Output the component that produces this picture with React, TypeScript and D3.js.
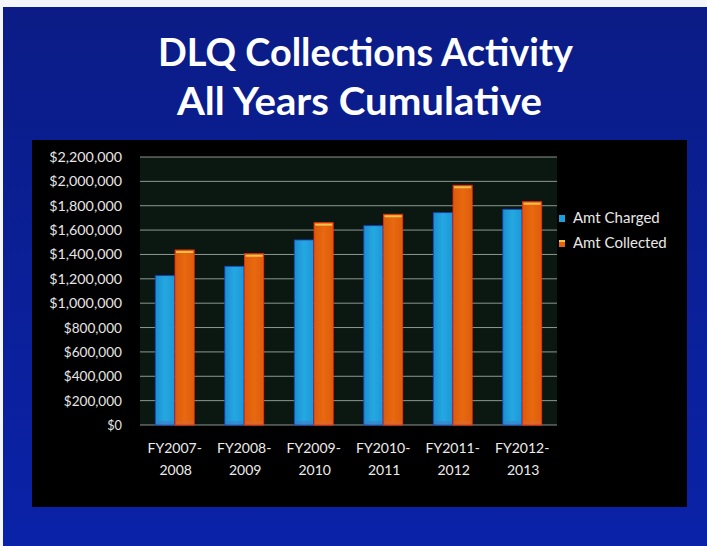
import React from "react";
import * as d3 from "d3";

const categories = ["FY2007-2008", "FY2008-2009", "FY2009-2010", "FY2010-2011", "FY2011-2012", "FY2012-2013"];
const charged = [1226000, 1303000, 1519000, 1636000, 1743000, 1771000];
const collected = [1437000, 1406000, 1661000, 1730000, 1968000, 1833000];
const seriesNames = ["Amt Charged", "Amt Collected"];
const yTicks = [0, 200000, 400000, 600000, 800000, 1000000, 1200000, 1400000, 1600000, 1800000, 2000000, 2200000];
const titleLines = ["DLQ Collections Activity", "All Years Cumulative"];

const W = 707;
const H = 546;
const plot = { left: 140, right: 557, top: 157, bottom: 425 };
const FONT = "Lato, 'Open Sans', sans-serif";

export default function App() {
  const x = d3.scaleBand<string>().domain(categories).range([plot.left, plot.right]).paddingInner(0.44).paddingOuter(0.22);
  const sub = d3.scaleBand<string>().domain(seriesNames).range([0, x.bandwidth()]).paddingInner(0.03);
  const y = d3.scaleLinear().domain([0, 2200000]).range([plot.bottom, plot.top]);
  const fmt = (v: number) => "$" + d3.format(",")(v);
  const series = [charged, collected];
  const fills = ["#1f9fda", "#e4640f"];
  const strokes = ["#1740c0", "#ff2a10"];

  return (
    <svg width={W} height={H} style={{ position: "absolute", left: 0, top: 0 }}>
      <defs>
        <linearGradient id="bg" x1="0" y1="0" x2="0" y2="1">
          <stop offset="0" stopColor="#0b1c86" />
          <stop offset="1" stopColor="#0a22a8" />
        </linearGradient>
        <linearGradient id="gBlue" x1="0" y1="0" x2="1" y2="0">
          <stop offset="0" stopColor="#1a8fd0" />
          <stop offset="0.5" stopColor="#25a8e2" />
          <stop offset="1" stopColor="#1c98d6" />
        </linearGradient>
        <linearGradient id="gOrange" x1="0" y1="0" x2="1" y2="0">
          <stop offset="0" stopColor="#dc5a0c" />
          <stop offset="0.5" stopColor="#e8690f" />
          <stop offset="1" stopColor="#de5c0c" />
        </linearGradient>
      </defs>
      <rect x={0} y={0} width={W} height={H} fill="#f4f6fa" />
      <rect x={3} y={7} width={W - 3} height={H - 7} fill="url(#bg)" />
      <g fontFamily={FONT} fontWeight={700} fill="#ffffff" textAnchor="middle">
        <text x={365.5} y={66} fontSize={39} textLength={415} lengthAdjust="spacingAndGlyphs">{titleLines[0]}</text>
        <text x={359.5} y={115} fontSize={39} textLength={365} lengthAdjust="spacingAndGlyphs">{titleLines[1]}</text>
      </g>
      <rect x={32} y={140} width={655} height={367} fill="#000000" />
      <rect x={plot.left} y={plot.top} width={plot.right - plot.left} height={plot.bottom - plot.top} fill="#0b1812" />
      {yTicks.map((t) => (
        <g key={t}>
          <line x1={plot.left} x2={plot.right} y1={y(t)} y2={y(t)} stroke="#b9c2bc" strokeOpacity={0.75} strokeWidth={1} />
          <text x={122} y={y(t)} dy="0.36em" textAnchor="end" fontFamily={FONT} fontSize={14} fill="#e6e6e6" textLength={d3.format(",")(t).length * 7.25 + 7.5} lengthAdjust="spacingAndGlyphs">{fmt(t)}</text>
        </g>
      ))}
      {categories.map((c, i) => (
        <g key={c}>
          {series.map((s, k) => {
            const bx = (x(c) as number) + (sub(seriesNames[k]) as number);
            const by = y(s[i]);
            const bw = sub.bandwidth();
            return (
              <g key={k}>
                <rect x={bx} y={by} width={bw} height={y(0) - by} fill={k === 0 ? "url(#gBlue)" : "url(#gOrange)"} stroke={strokes[k]} strokeWidth={0.8} />
                {k === 1 && <rect x={bx + 1} y={by + 1} width={bw - 2} height={2} fill="#f2c34a" />}
                <rect x={bx + 1} y={y(0) - 4} width={bw - 2} height={3} fill={k === 0 ? "#3f7fc8" : "#d86a30"} opacity={0.6} />
              </g>
            );
          })}
          <text x={(x(c) as number) + x.bandwidth() / 2} y={453} textAnchor="middle" fontFamily={FONT} fontSize={14} fill="#ececec">{c.split("-")[0] + "-"}</text>
          <text x={(x(c) as number) + x.bandwidth() / 2 + 1} y={475} textAnchor="middle" fontFamily={FONT} fontSize={14} fill="#ececec">{c.split("-")[1]}</text>
        </g>
      ))}
      {seriesNames.map((n, k) => (
        <g key={n}>
          <rect x={559} y={215 + k * 25} width={6} height={7} fill={fills[k]} />
          {k === 1 && <rect x={559} y={215 + k * 25} width={6} height={2} fill="#f2c34a" />}
          <text x={573} y={223 + k * 25} fontFamily={FONT} fontSize={15} fill="#e8e8e8">{n}</text>
        </g>
      ))}
    </svg>
  );
}
